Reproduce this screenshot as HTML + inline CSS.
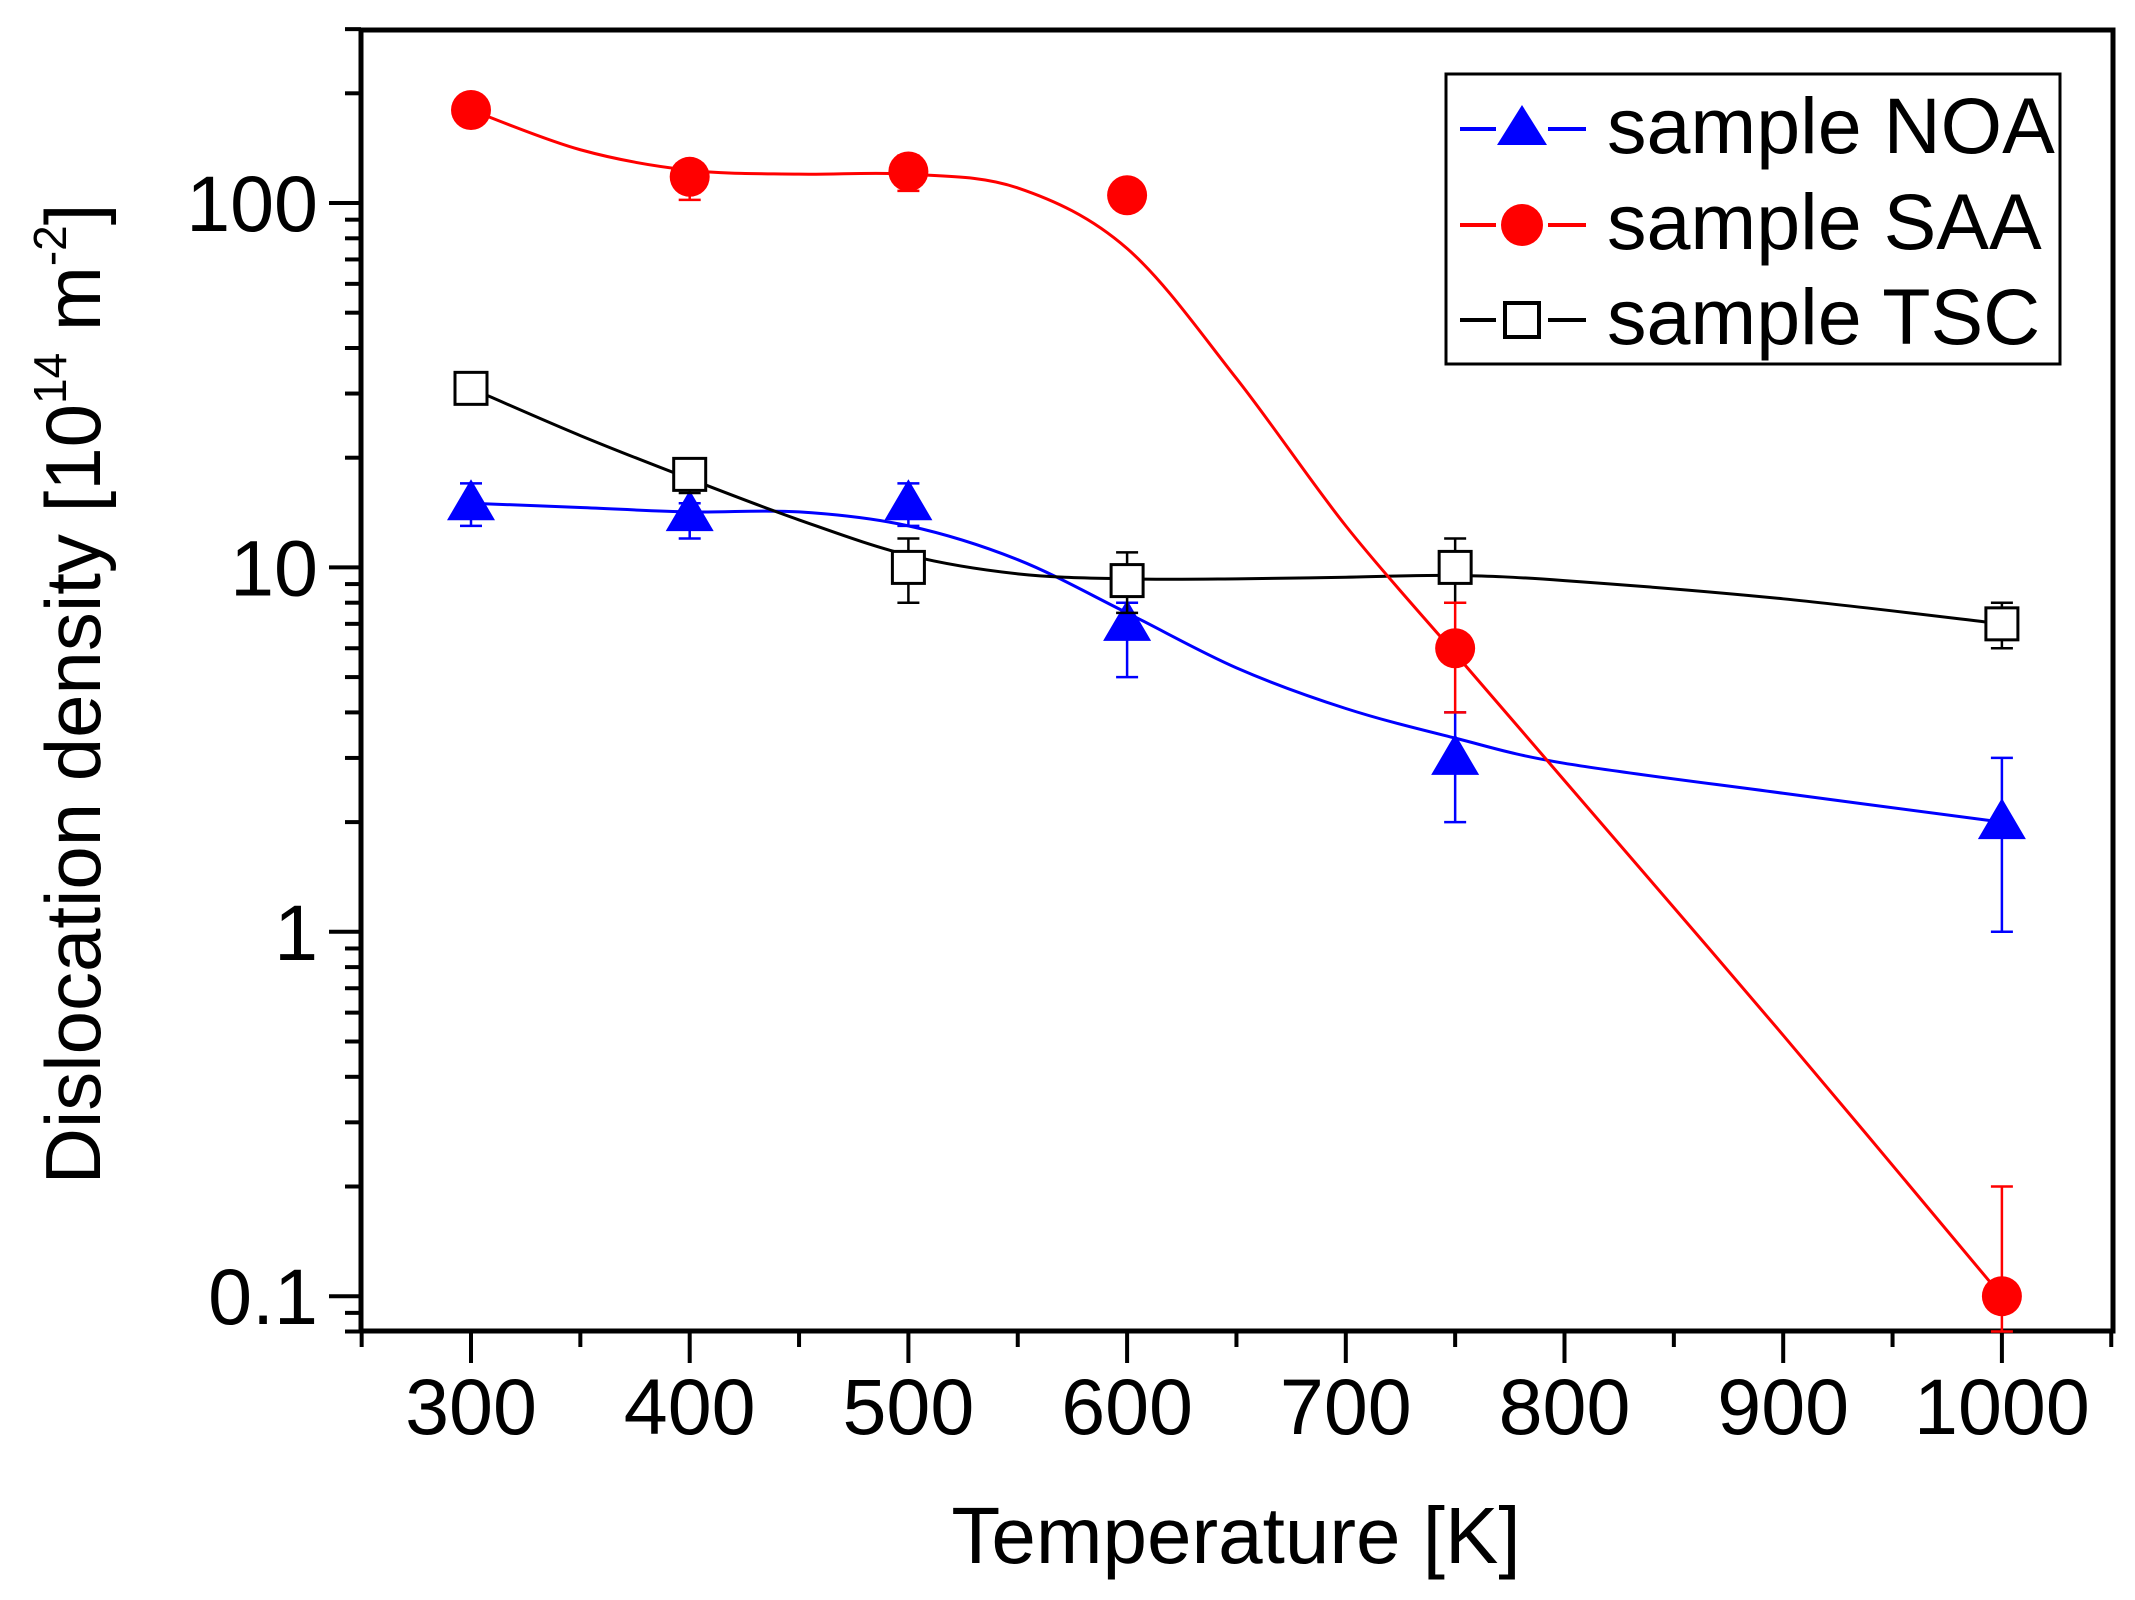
<!DOCTYPE html>
<html><head><meta charset="utf-8"><style>
html,body{margin:0;padding:0;background:#fff}
svg{display:block}
text{font-family:"Liberation Sans",Arial,sans-serif;fill:#000}
</style></head><body>
<svg id="chart" width="2135" height="1600" viewBox="0 0 2135 1600" xmlns="http://www.w3.org/2000/svg">
<g id="axes"></g>
<g id="series"></g>
<text x="1236" y="1563" font-size="80" text-anchor="middle">Temperature [K]</text>
<text transform="translate(100,694) rotate(-90)" font-size="78" text-anchor="middle">Dislocation density [10<tspan font-size="46" dy="-34">14</tspan><tspan dy="34"> m</tspan><tspan font-size="46" dy="-34">-2</tspan><tspan dy="34">]</tspan></text>
<g>
<rect x="1446" y="74" width="614" height="290" fill="#fff" stroke="#000" stroke-width="3"/>
<g>
<path d="M1460,129H1496M1548,129H1586" stroke="#0000ff" stroke-width="4"/>
<polygon points="1522,105 1547,145 1497,145" fill="#0000ff"/>
<text x="1607" y="153" font-size="79">sample NOA</text></g>
<g>
<path d="M1460,225H1496M1548,225H1586" stroke="#ff0000" stroke-width="4"/>
<circle cx="1522" cy="225" r="21" fill="#ff0000"/>
<text x="1607" y="249" font-size="79">sample SAA</text></g>
<g>
<path d="M1460,320H1496M1548,320H1586" stroke="#000" stroke-width="4"/>
<rect x="1505" y="303" width="34" height="34" fill="#fff" stroke="#000" stroke-width="4"/>
<text x="1607" y="344" font-size="79">sample TSC</text></g>
</g>
</svg>
<script>
const temps=[300,400,500,600,750,1000];
const noaVals=[15,14,15,7,3,2];
const noaLo=[13,12,13,5,2,1];
const noaHi=[17,15,17,8,4,3];
const saaVals=[180,118,122,105,6,0.1];
const saaLo=[165,102,108,100,4,0.08];
const saaHi=[195,130,135,110,8,0.2];
const tscVals=[31,18,10,9.2,10,7];
const tscLo=[29,16,8,7.5,8,6];
const tscHi=[34,19,12,11,12,8];
const fitT=[300,350,400,450,500,550,600,650,700,750,800,900,1000];
const noaFit=[15,14.6,14.2,14.2,13,10.5,7.5,5.3,4.1,3.4,2.9,2.4,2];
const saaFit=[180,140,123,120,120,110,75,33,13,5.8,2.6,0.52,0.1];
const tscFit=[31,23,17.5,13.5,10.8,9.6,9.3,9.3,9.4,9.5,9.2,8.2,7];
const xTicks=[300,400,500,600,700,800,900,1000];
const yTicks=[0.1,1,10,100];
const yTickLabels=["0.1","1","10","100"];

const NS="http://www.w3.org/2000/svg";
const L=361,R=2113,T=30,B=1331;
const X=t=>471+(t-300)*2.187;
const Y=v=>203+(2-Math.log10(v))*364.4;
function mk(tag,attrs,parent){const e=document.createElementNS(NS,tag);for(const k in attrs)e.setAttribute(k,attrs[k]);parent.appendChild(e);return e;}
const ax=document.getElementById('axes');
const sr=document.getElementById('series');
let e;
e=mk('rect',{x:L,y:T,width:R-L,height:B-T,fill:'none',stroke:'#000','stroke-width':5},ax);


for(let t=250;t<=1050;t+=50){
  const major=(t%100===0);
  e=mk('line',{x1:X(t),y1:B,x2:X(t),y2:B+(major?32:16),stroke:'#000','stroke-width':4},ax);
  
  
}
xTicks.forEach(t=>{
  e=mk('text',{x:X(t),y:1434,'font-size':79,'text-anchor':'middle'},ax);
  e.textContent=String(t);
  
  
});
[0.01,0.1,1,10,100].forEach(d=>{
  for(let m=1;m<10;m++){
    const v=d*m; const y=Y(v);
    if(y<T-1||y>B+1)continue;
    e=mk('line',{x1:L,y1:y,x2:L-(m===1?32:16),y2:y,stroke:'#000','stroke-width':4},ax);
    
    
  }
});
yTicks.forEach((v,i)=>{
  e=mk('text',{x:318,y:Y(v)+28,'font-size':79,'text-anchor':'end'},ax);
  e.textContent=yTickLabels[i];
  
  
});
function curve(ts,vs){
  const p=ts.map((t,i)=>[X(t),Y(vs[i])]);
  let d='M'+p[0][0]+','+p[0][1];
  for(let i=0;i<p.length-1;i++){
    const p0=p[Math.max(0,i-1)],p1=p[i],p2=p[i+1],p3=p[Math.min(p.length-1,i+2)];
    const c1=[p1[0]+(p2[0]-p0[0])/6,p1[1]+(p2[1]-p0[1])/6];
    const c2=[p2[0]-(p3[0]-p1[0])/6,p2[1]-(p3[1]-p1[1])/6];
    d+=' C'+c1+' '+c2+' '+p2;
  }
  return d;
}
const series=[
  {name:'noa',color:'#0000ff',vals:noaVals,lo:noaLo,hi:noaHi,fit:noaFit,shape:'tri'},
  {name:'tsc',color:'#000000',vals:tscVals,lo:tscLo,hi:tscHi,fit:tscFit,shape:'sq'},
  {name:'saa',color:'#ff0000',vals:saaVals,lo:saaLo,hi:saaHi,fit:saaFit,shape:'circ'}
];
series.forEach(s=>{
  const g=mk('g',{},sr);
  
  
  e=mk('path',{d:curve(fitT,s.fit),fill:'none',stroke:s.color,'stroke-width':3},g);
  
  
  temps.forEach((t,i)=>{
    const x=X(t),yl=Y(s.lo[i]),yh=Y(s.hi[i]);
    e=mk('path',{d:`M${x},${yl}V${yh}M${x-11},${yl}H${x+11}M${x-11},${yh}H${x+11}`,stroke:s.color,'stroke-width':2.5,fill:'none'},g);
    
    
  });
  temps.forEach((t,i)=>{
    const x=X(t),y=Y(s.vals[i]);
    if(s.shape==='tri') e=mk('polygon',{points:`${x},${y-24} ${x+24},${y+17} ${x-24},${y+17}`,fill:s.color},g);
    else if(s.shape==='circ') e=mk('circle',{cx:x,cy:y,r:20,fill:s.color},g);
    else e=mk('rect',{x:x-16,y:y-16,width:32,height:32,fill:'#fff',stroke:'#000','stroke-width':3},g);
    
    
  });
});
</script>
</body></html>
